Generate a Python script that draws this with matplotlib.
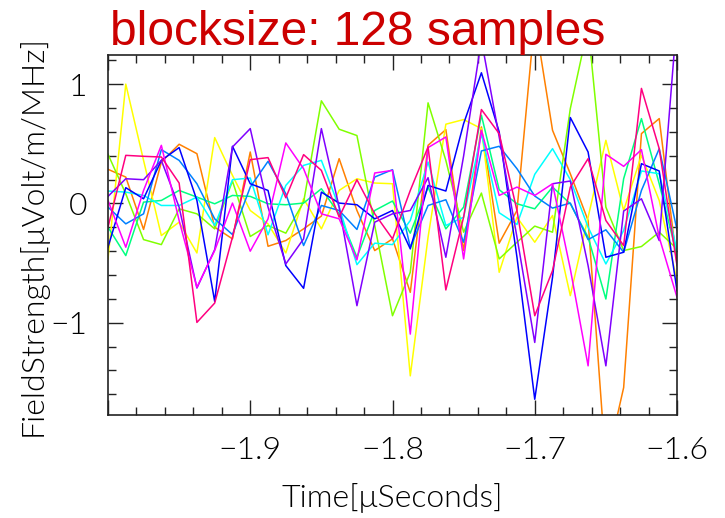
import matplotlib
matplotlib.use("Agg")
import matplotlib.pyplot as plt
from matplotlib.ticker import FixedLocator, FixedFormatter

times = [-2.0000, -1.9875, -1.9750, -1.9625, -1.9500, -1.9375, -1.9250, -1.9125,
         -1.9000, -1.8875, -1.8750, -1.8625, -1.8500, -1.8375, -1.8250, -1.8125,
         -1.8000, -1.7875, -1.7750, -1.7625, -1.7500, -1.7375, -1.7250, -1.7125,
         -1.7000, -1.6875, -1.6750, -1.6625, -1.6500, -1.6375, -1.6250, -1.6125,
         -1.6000]

orange = [0.286, 0.221, -0.218, 0.347, 0.496, 0.417, -0.199, -0.297, 0.431, -0.359, -0.311,
          -0.213, -0.106, 0.375, -0.059, -0.395, -0.297, -0.745, 0.487, 0.619, -0.395, 0.641,
          -0.333, -0.059, 1.552, 0.613, 0.249, -0.143, -2.2, -1.543, 0.585, 0.711, -0.507]
yellow = [-0.465, 1.0, 0.361, -0.269, -0.157, -0.415, 0.552, 0.235, -0.059, -0.171, -0.415,
          0.039, -0.213, 0.109, 0.207, 0.171, 0.165, -1.445, -0.283, 0.664, 0.703, 0.627,
          -0.577, -0.115, -0.325, -0.101, -0.773, -0.115, 0.529, -0.059, 0.403, 0.025, -0.647]
chartreuse = [0.412, 0.081, -0.303, -0.345, -0.045, -0.087, -0.213, 0.188, -0.277, -0.185, -0.249,
              0.011, 0.860, 0.622, 0.569, -0.185, -0.941, -0.577, 0.843, 0.361, -0.241, 0.087,
              -0.465, -0.325, -0.190, -0.241, 0.795, 1.482, -0.031, -0.395, -0.361, -0.241, -0.381]
spring = [-0.199, -0.437, 0.011, 0.025, 0.109, 0.053, -0.003, 0.067, 0.059, -0.003, -0.011,
          0.003, 0.123, -0.087, -0.451, -0.059, 0.020, -0.249, 0.137, -0.213, -0.031, 0.739,
          0.115, -0.003, -0.045, 0.137, -0.003, -0.283, -0.801, 0.207, 0.711, 0.165, -0.437]
cyan = [0.104, 0.095, 0.067, -0.017, -0.017, 0.053, -0.185, 0.199, 0.213, -0.263, 0.151,
        0.319, 0.361, -0.031, -0.513, -0.333, -0.345, -0.143, 0.347, -0.185, -0.115, 0.585,
        -0.078, -0.176, 0.244, 0.459, 0.199, -0.199, -0.507, -0.227, 0.272, 0.249, -0.395]
azure = [-0.031, -0.171, -0.087, 0.451, 0.361, 0.165, -0.129, -0.261, 0.137, 0.353, 0.081,
         -0.353, -0.017, -0.059, -0.218, 0.221, 0.283, -0.367, -0.017, 0.031, -0.325, 0.440,
         0.479, 0.291, 0.062, -0.039, 0.003, -0.303, -0.221, -0.409, 0.109, 0.459, -0.221]
blue = [-0.367, 0.132, 0.039, 0.361, 0.468, 0.025, -0.821, 0.479, 0.165, 0.109, -0.521,
        -0.711, 0.095, 0.003, -0.011, -0.129, -0.059, -0.381, 0.151, 0.104, 0.669, 1.095,
        0.599, -0.451, -1.641, -0.619, 0.720, 0.431, -0.451, -0.409, 0.333, 0.272, -0.731]
violet = [0.059, 0.207, 0.199, 0.361, -0.031, -0.709, -0.387, 0.473, 0.627, -0.031, -0.507,
          -0.297, 0.627, -0.031, -0.857, -0.157, -0.087, -0.059, 0.216, -0.451, 0.398, 1.37,
          0.557, -0.283, -1.165, 0.165, 0.188, -0.521, -1.361, -0.064, 0.039, -0.311, 1.563]
magenta = [0.025, -0.367, 0.109, 0.487, -0.143, -0.703, -0.395, 0.003, -0.40, -0.129, 0.507,
           0.291, -0.087, -0.129, -0.473, 0.255, 0.277, -1.095, 0.468, 0.557, -0.465, 0.613,
           0.067, 0.137, 0.067, 0.165, -0.549, -1.361, 0.412, 0.311, 0.451, -0.283, -0.787]
rose = [-0.199, 0.403, 0.395, 0.389, 0.171, -0.997, -0.835, -0.283, 0.367, 0.384, 0.048,
        0.409, 0.277, -0.115, 0.199, -0.087, -0.297, 0.109, 0.473, -0.725, -0.115, 0.787,
        0.585, -0.059, -0.941, -0.563, 0.137, 0.375, -0.143, -0.353, 0.964, 0.459, -0.521]

series = [orange, yellow, chartreuse, spring, cyan, azure, blue, violet, magenta, rose]
colors = ["#FF8000", "#FFFF00", "#80FF00", "#00FF80", "#00FFFF",
          "#0080FF", "#0000FF", "#8000FF", "#FF00FF", "#FF0080"]

x_major = [-2.0, -1.9, -1.8, -1.7, -1.6]
x_labels = ["", "\u22121.9", "\u22121.8", "\u22121.7", "\u22121.6"]
y_major = [-1, 0, 1]
y_labels = ["\u22121", "0", "1"]

title = "blocksize: 128 samples"
xlabel = "Time[\u03bcSeconds]"
ylabel = "FieldStrength[\u03bcVolt/m/MHz]"

fam = ["Lato", "DejaVu Sans"]
w = 300
tfam = ["Liberation Sans", "DejaVu Sans"]

fig = plt.figure(figsize=(7.25, 5.18), dpi=100)
ax = fig.add_axes([108 / 725, 1 - 415 / 518, (677 - 108) / 725, (415 - 55) / 518])

for vals, c in zip(series, colors):
    ax.plot(times, vals, color=c, lw=1.1)

ax.set_xlim(-2.0, -1.6)
ax.set_ylim(-1.773, 1.244)

ax.xaxis.set_major_locator(FixedLocator(x_major))
ax.xaxis.set_major_formatter(FixedFormatter(x_labels))
ax.xaxis.set_minor_locator(FixedLocator([-2.0 + 0.02 * k for k in range(21)]))
ax.yaxis.set_major_locator(FixedLocator(y_major))
ax.yaxis.set_major_formatter(FixedFormatter(y_labels))
ax.yaxis.set_minor_locator(FixedLocator([-1.6 + 0.2 * k for k in range(15)]))

ax.tick_params(which="both", direction="in", top=True, right=True, width=1.0, color="#222222")
ax.tick_params(which="major", length=11, labelsize=23, pad=15)
ax.tick_params(which="minor", length=5.5)
for lab in ax.get_xticklabels() + ax.get_yticklabels():
    lab.set_family(fam)
    lab.set_weight(w)
for sp in ax.spines.values():
    sp.set_linewidth(1.2)
    sp.set_color("#222222")

ax.set_xlabel(xlabel, fontsize=23, family=fam, weight=w, labelpad=13)
ax.set_ylabel(ylabel, fontsize=23, family=fam, weight=w, labelpad=2)

fig.text(110 / 725, 1 - 45 / 518, title, color="#CC0000", fontsize=34.5, family=tfam,
         ha="left", va="baseline")

fig.savefig("out.png", dpi=100)
